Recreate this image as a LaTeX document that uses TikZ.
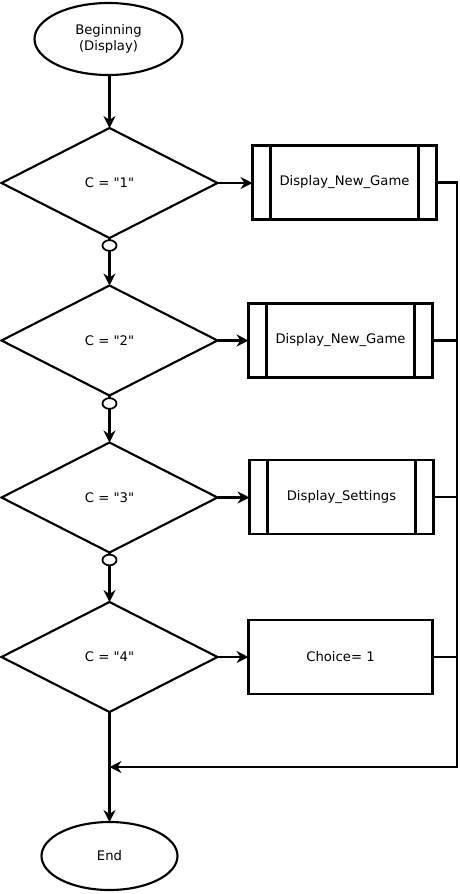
\documentclass[tikz,border=0pt]{standalone}
\usepackage{fontspec}
\setmainfont[Ligatures=TeXOff]{DejaVu Sans}
\usetikzlibrary{shapes.geometric,arrows.meta}
\begin{document}
\begin{tikzpicture}[x=0.75pt,y=-0.75pt,
  line width=1.6pt,
  every node/.style={font=\fontsize{9.9}{11.8}\selectfont, align=center, inner sep=0pt, outer sep=0pt},
  terminal/.style={draw, ellipse, minimum width=111pt, minimum height=54pt},
  decision/.style={draw, diamond, minimum width=162pt, minimum height=82.5pt},
  joint/.style={draw, ellipse, line width=1.3pt, minimum width=10.5pt, minimum height=8pt},
  subproc/.style={draw, rectangle, minimum width=138pt, minimum height=55.5pt},
  process/.style={draw, rectangle, minimum width=138pt, minimum height=55pt},
  flow/.style={-{Stealth[length=9pt,width=9pt,inset=3pt]}}
]
\useasboundingbox (0,0) rectangle (460,894);

% start and end terminals
\node[terminal] (start) at (108.5,39) {Beginning\\(Display)};
\node[terminal, minimum width=102pt, minimum height=51pt] (stop) at (109.5,856) {End};

% decisions
\node[decision] (d1) at (109.5,183) {C = "1"};
\node[decision] (d2) at (109.5,340.5) {C = "2"};
\node[decision] (d3) at (109.5,497.5) {C = "3"};
\node[decision] (d4) at (109.5,657) {C = "4"};

% connectors between decisions
\node[joint] (j1) at (109.5,245.5) {};
\node[joint] (j2) at (109.5,403.5) {};
\node[joint] (j3) at (109.5,560) {};

% subprocess boxes
\node[subproc] (p1) at (344.5,182.5) {Display\_New\_Game};
\node[subproc] (p2) at (340.5,340.5) {Display\_New\_Game};
\node[subproc] (p3) at (341.5,497) {Display\_Settings};
\node[process] (p4) at (340.5,657) {Choice= 1};

% inner bars of the subprocess boxes
\foreach \p in {p1,p2,p3}{
  \draw ([xshift=13.5pt]\p.north west) -- ([xshift=13.5pt]\p.south west);
  \draw ([xshift=-13.5pt]\p.north east) -- ([xshift=-13.5pt]\p.south east);
}

% merge points
\coordinate (rail) at (457,767);
\coordinate (merge) at (109.5,767);

% main flow
\draw[flow] (start.south -| d1.north) -- (d1.north);
\draw (d1.south) -- (j1.north);
\draw[flow] (j1) -- (d2);
\draw (d2.south) -- (j2.north);
\draw[flow] (j2) -- (d3);
\draw (d3.south) -- (j3.north);
\draw[flow] (j3) -- (d4);
\draw[flow] (d4.south) -- (stop.north);

% branches to the boxes
\draw[flow] (d1.east) -- (d1.east -| p1.west);
\draw[flow] (d2.east) -- (d2.east -| p2.west);
\draw[flow] (d3.east) -- (d3.east -| p3.west);
\draw[flow] (d4.east) -- (d4.east -| p4.west);

% return rail back into the main line
\draw[flow] (p1.east) -| (rail) -- (merge);
\draw (p2.east) -- (p2.east -| rail);
\draw (p3.east) -- (p3.east -| rail);
\draw (p4.east) -- (p4.east -| rail);
\end{tikzpicture}
\end{document}
